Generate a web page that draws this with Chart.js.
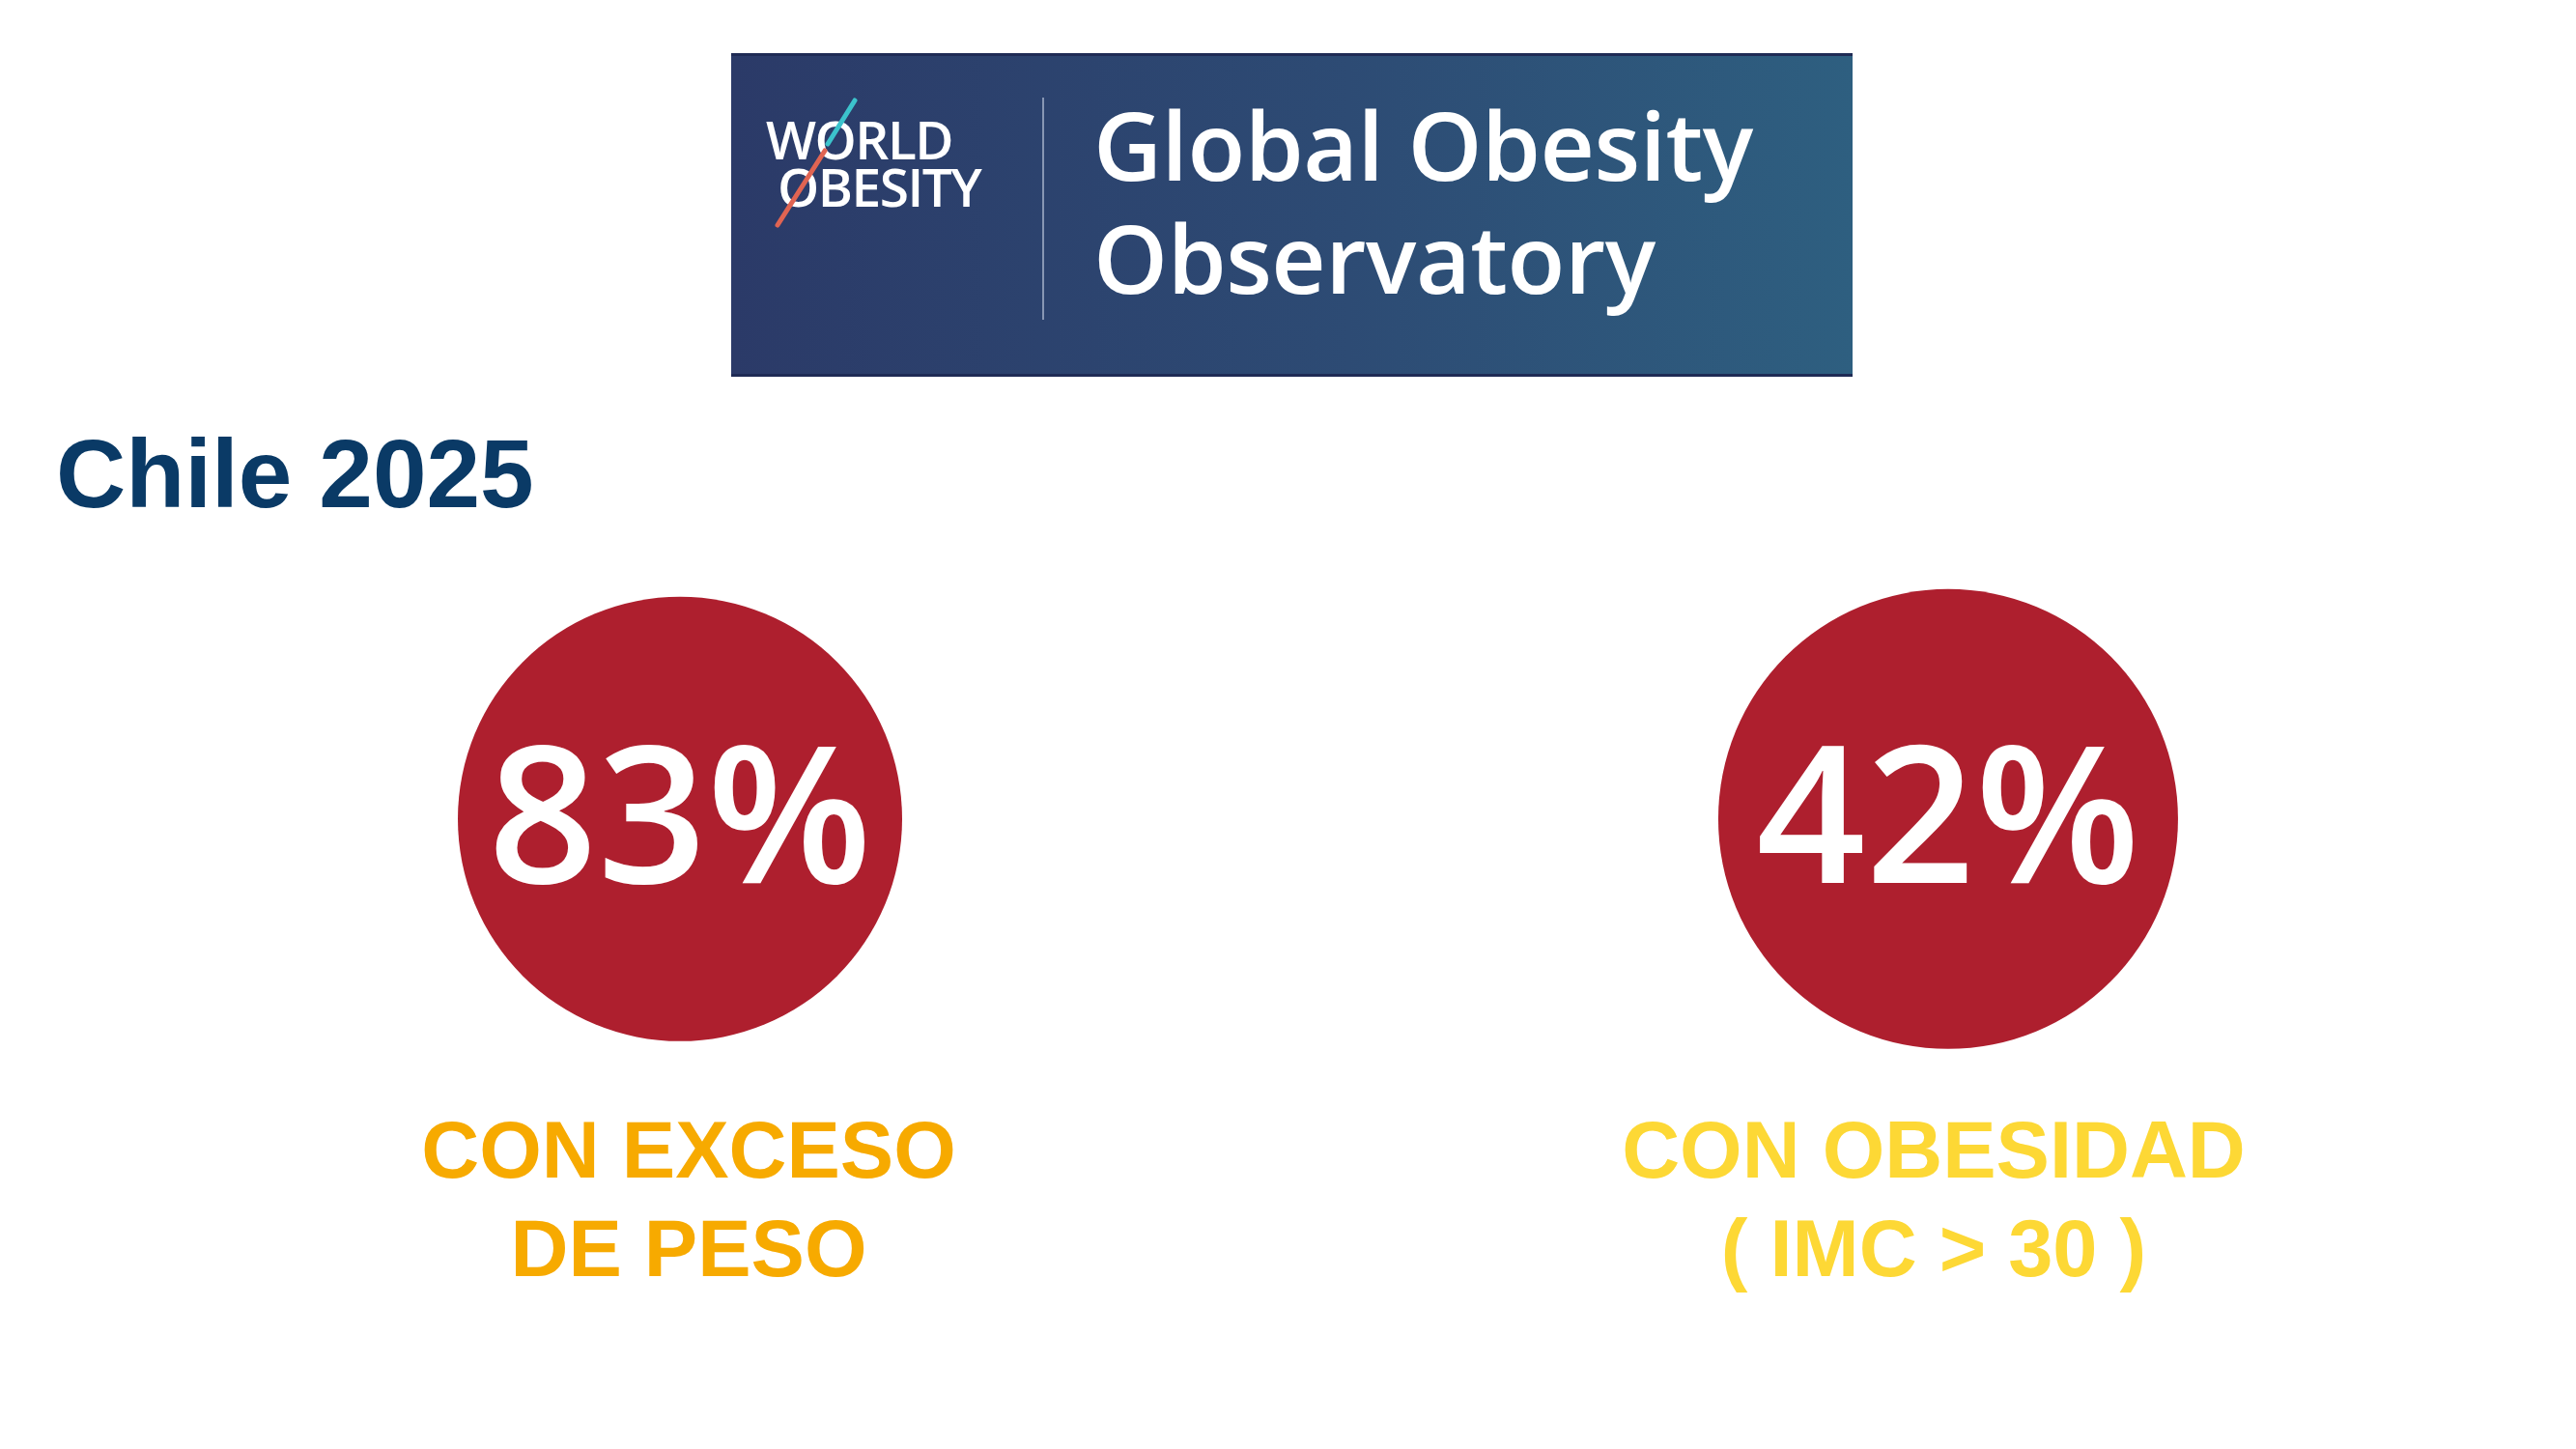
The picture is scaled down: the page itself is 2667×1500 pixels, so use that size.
<!DOCTYPE html>
<html>
<head>
<meta charset="utf-8">
<script src="https://cdn.jsdelivr.net/npm/chart.js@4.4.1/dist/chart.umd.min.js"></script>
<style>
  html, body { margin:0; padding:0; background:#ffffff; }
  #wrap { position:relative; width:2667px; height:1500px; overflow:hidden; background:#fff; }
  #c { position:absolute; left:0; top:0; }
  #banner { position:absolute; left:757px; top:55px; width:1161px; height:335px;
    background:linear-gradient(to right, #2b3a68 0%, #2d4b74 55%, #2e5f80 100%);
    border-top:3px solid #1f2b55; border-bottom:3px solid #1f2b55; box-sizing:border-box; }
  .wo { position:absolute; color:#fff; font-family:"Open Sans", sans-serif; font-weight:600;
    font-size:55px; line-height:1; letter-spacing:-1.5px; white-space:nowrap; }
  #divider { position:absolute; left:1079px; top:101px; width:2px; height:230px; background:#8796b3; }
  .goo { position:absolute; color:#fff; font-family:"Open Sans", sans-serif; font-weight:600;
    font-size:98px; line-height:1; white-space:nowrap; letter-spacing:-0.5px; }
  #title { position:absolute; left:58px; top:440px; color:#0a3a66; font-family:"Liberation Sans", Arial, sans-serif;
    font-weight:bold; font-size:100px; line-height:1; white-space:nowrap; }
  svg { position:absolute; left:0; top:0; }
</style>
</head>
<body>
<div id="wrap">
  <canvas id="c" width="2667" height="1500"></canvas>
  <div id="banner"></div>
  <div class="wo" style="left:793px; top:116px;">WORLD</div>
  <div class="wo" style="left:805px; top:165px;">OBESITY</div>
  <svg width="2667" height="400">
    <line x1="885" y1="104" x2="857" y2="149" stroke="#3cc3cc" stroke-width="5" stroke-linecap="round"/>
    <line x1="854" y1="156" x2="805" y2="233" stroke="#e06452" stroke-width="5" stroke-linecap="round"/>
  </svg>
  <div id="divider"></div>
  <div class="goo" style="left:1132px; top:100px;">Global Obesity</div>
  <div class="goo" style="left:1132px; top:217px;">Observatory</div>
  <div id="title">Chile 2025</div>
</div>
<script>
// ---- data ----
const categories = ['Exceso de peso', 'Obesidad'];
const values = [83, 42];
const labelLines = [
  ['CON EXCESO', 'DE PESO'],
  ['CON OBESIDAD', '( IMC > 30 )']
];

const circleColor = '#ae1f2e';
const labelColors = ['#f7aa00', '#fdd835'];
const labelShift = [9, -15];

const textPlugin = {
  id: 'infoText',
  afterDatasetsDraw(chart) {
    const ctx = chart.ctx;
    const meta = chart.getDatasetMeta(0);
    const yScale = chart.scales.y;
    const baseY = yScale.getPixelForValue(0);
    ctx.save();
    meta.data.forEach((el, i) => {
      ctx.fillStyle = '#ffffff';
      ctx.textAlign = 'center';
      ctx.textBaseline = 'alphabetic';
      ctx.font = '600 198px "Open Sans", sans-serif';
      ctx.fillText(values[i] + '%', el.x, el.y + 66);
      ctx.fillStyle = labelColors[i];
      ctx.font = 'bold 83px "Liberation Sans", Arial, sans-serif';
      labelLines[i].forEach((line, j) => {
        ctx.fillText(line, el.x + labelShift[i], baseY + 371 + j * 102);
      });
    });
    ctx.restore();
  }
};

new Chart(document.getElementById('c'), {
  type: 'scatter',
  data: {
    labels: categories,
    datasets: [{
      label: 'Chile 2025',
      data: values.map((v, i) => ({ x: i, y: 0, v: v })),
      backgroundColor: circleColor,
      borderColor: circleColor,
      borderWidth: 0,
      pointRadius: [230, 238],
      pointHoverRadius: [230, 238],
      clip: false
    }]
  },
  options: {
    responsive: false,
    devicePixelRatio: 1,
    animation: false,
    events: [],
    layout: { padding: 0, autoPadding: false },
    plugins: { legend: { display: false }, tooltip: { enabled: false }, title: { display: false } },
    scales: {
      x: { type: 'linear', display: false, min: -0.5362, max: 1.4951 },
      y: { type: 'linear', display: false, min: -1, max: 1.3 }
    }
  },
  plugins: [textPlugin]
});
</script>
</body>
</html>
